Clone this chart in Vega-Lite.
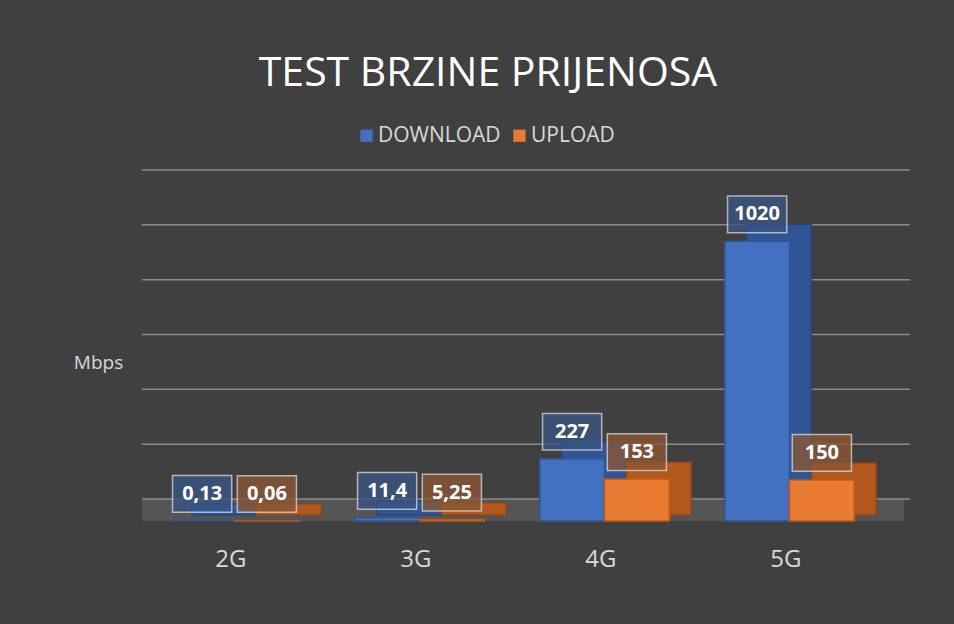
{
  "$schema": "https://vega.github.io/schema/vega-lite/v6.json",
  "width": 740,
  "height": 329,
  "autosize": {"type": "none"},
  "padding": {"left": 142, "top": 192, "right": 72, "bottom": 103},
  "background": "#404040",
  "title": {
    "text": "TEST BRZINE PRIJENOSA",
    "color": "#ffffff",
    "font": "Open Sans",
    "fontSize": 41,
    "fontWeight": "normal",
    "anchor": "middle",
    "frame": "group",
    "dx": -24,
    "offset": 30
  },
  "config": {
    "view": {"stroke": null},
    "font": "Open Sans"
  },
  "datasets": {
    "speeds": [
      {"mreza": "2G", "tip": "DOWNLOAD", "mbps": 0.13, "oznaka": "0,13"},
      {"mreza": "2G", "tip": "UPLOAD", "mbps": 0.06, "oznaka": "0,06"},
      {"mreza": "3G", "tip": "DOWNLOAD", "mbps": 11.4, "oznaka": "11,4"},
      {"mreza": "3G", "tip": "UPLOAD", "mbps": 5.25, "oznaka": "5,25"},
      {"mreza": "4G", "tip": "DOWNLOAD", "mbps": 227, "oznaka": "227"},
      {"mreza": "4G", "tip": "UPLOAD", "mbps": 153, "oznaka": "153"},
      {"mreza": "5G", "tip": "DOWNLOAD", "mbps": 1020, "oznaka": "1020"},
      {"mreza": "5G", "tip": "UPLOAD", "mbps": 150, "oznaka": "150"}
    ],
    "grid": [
      {"v": 0}, {"v": 200}, {"v": 400}, {"v": 600}, {"v": 800}, {"v": 1000}, {"v": 1200}
    ]
  },
  "resolve": {"scale": {"color": "independent"}},
  "layer": [
    {
      "data": {"values": [{}]},
      "mark": {"type": "rect", "color": "#555555", "y2Offset": -22, "xOffset": 22, "x2Offset": 0},
      "encoding": {
        "y": {"datum": 0, "type": "quantitative", "scale": {"domain": [0, 1200]}},
        "y2": {"datum": 0}
      }
    },
    {
      "data": {"name": "grid"},
      "mark": {"type": "rule", "color": "#8a8a8a", "strokeWidth": 1.5, "xOffset": 28, "yOffset": -22},
      "encoding": {
        "y": {"field": "v", "type": "quantitative", "scale": {"domain": [0, 1200]}}
      }
    },
    {
      "data": {"name": "speeds"},
      "transform": [{"filter": "datum.tip === 'DOWNLOAD'"}],
      "mark": {"type": "bar", "width": {"band": 0.5}, "xOffset": -10.4, "yOffset": -17, "y2Offset": -6, "strokeWidth": 1.2, "fill": "#2F5597", "stroke": "#22407A"},
      "encoding": {
        "x": {"field": "mreza", "type": "nominal", "scale": {"paddingInner": 0.3, "paddingOuter": 0.15}},
        "y": {"field": "mbps", "type": "quantitative", "scale": {"domain": [0, 1200]}},
        "y2": {"datum": 0}
      }
    },
    {
      "data": {"name": "speeds"},
      "transform": [{"filter": "datum.tip === 'UPLOAD'"}],
      "mark": {"type": "bar", "width": {"band": 0.5}, "xOffset": 54.4, "yOffset": -17, "y2Offset": -6, "strokeWidth": 1.2, "fill": "#B2581E", "stroke": "#8F4210"},
      "encoding": {
        "x": {"field": "mreza", "type": "nominal", "scale": {"paddingInner": 0.3, "paddingOuter": 0.15}},
        "y": {"field": "mbps", "type": "quantitative", "scale": {"domain": [0, 1200]}},
        "y2": {"datum": 0}
      }
    },
    {
      "data": {"name": "speeds"},
      "mark": {"type": "bar", "strokeWidth": 1.5, "opacity": 0.97},
      "encoding": {
        "x": {
          "field": "mreza", "type": "nominal", "scale": {"paddingInner": 0.3, "paddingOuter": 0.15},
          "axis": {
            "title": null, "domain": false, "ticks": false, "labelAngle": 0,
            "labelColor": "#d9d9d9", "labelFontSize": 24, "labelFont": "Open Sans", "labelPadding": 38, "labelOffset": 12
          }
        },
        "xOffset": {"field": "tip", "type": "nominal", "sort": ["DOWNLOAD", "UPLOAD"]},
        "y": {
          "field": "mbps", "type": "quantitative", "scale": {"domain": [0, 1200]},
          "axis": {
            "title": "Mbps", "labels": false, "ticks": false, "domain": false, "grid": false,
            "titleAngle": 0, "titleAlign": "center", "titleBaseline": "middle",
            "titleX": -44, "titleY": 170, "titleColor": "#d9d9d9", "titleFontSize": 19,
            "titleFont": "Open Sans", "titleFontWeight": "normal"
          }
        },
        "color": {
          "field": "tip", "type": "nominal",
          "scale": {"domain": ["DOWNLOAD", "UPLOAD"], "range": ["#4472C4", "#ED7D31"]},
          "legend": {
            "title": null, "orient": "none", "direction": "horizontal", "legendX": 214, "legendY": -67,
            "labelColor": "#d9d9d9", "labelFontSize": 21, "labelFont": "Open Sans",
            "symbolType": "square", "symbolSize": 150, "symbolStrokeWidth": 1.5, "columnPadding": 8, "labelOffset": 1
          }
        },
        "stroke": {
          "field": "tip", "type": "nominal",
          "scale": {"domain": ["DOWNLOAD", "UPLOAD"], "range": ["#2F5597", "#C55A11"]},
          "legend": null
        }
      }
    },
    {
      "data": {"name": "speeds"},
      "mark": {
        "type": "point", "filled": true, "shape": "M-1,-0.62H1V0.62H-1Z", "size": 3500,
        "yOffset": -27, "stroke": "#d9d9d9", "strokeWidth": 1.5, "strokeOpacity": 0.75, "fillOpacity": 0.8, "opacity": 1
      },
      "encoding": {
        "x": {"field": "mreza", "type": "nominal", "scale": {"paddingInner": 0.3, "paddingOuter": 0.15}},
        "xOffset": {"field": "tip", "type": "nominal", "sort": ["DOWNLOAD", "UPLOAD"]},
        "y": {"field": "mbps", "type": "quantitative", "scale": {"domain": [0, 1200]}},
        "color": {"field": "tip", "type": "nominal", "legend": null, "scale": {"domain": ["DOWNLOAD", "UPLOAD"], "range": ["#3A5482", "#8A5634"]}}
      }
    },
    {
      "data": {"name": "speeds"},
      "mark": {"type": "text", "yOffset": -27, "baseline": "middle", "align": "center", "color": "#ffffff", "fontSize": 20, "fontWeight": "bold", "font": "Open Sans"},
      "encoding": {
        "x": {"field": "mreza", "type": "nominal", "scale": {"paddingInner": 0.3, "paddingOuter": 0.15}},
        "xOffset": {"field": "tip", "type": "nominal", "sort": ["DOWNLOAD", "UPLOAD"]},
        "y": {"field": "mbps", "type": "quantitative", "scale": {"domain": [0, 1200]}},
        "text": {"field": "oznaka", "type": "nominal"}
      }
    }
  ]
}
